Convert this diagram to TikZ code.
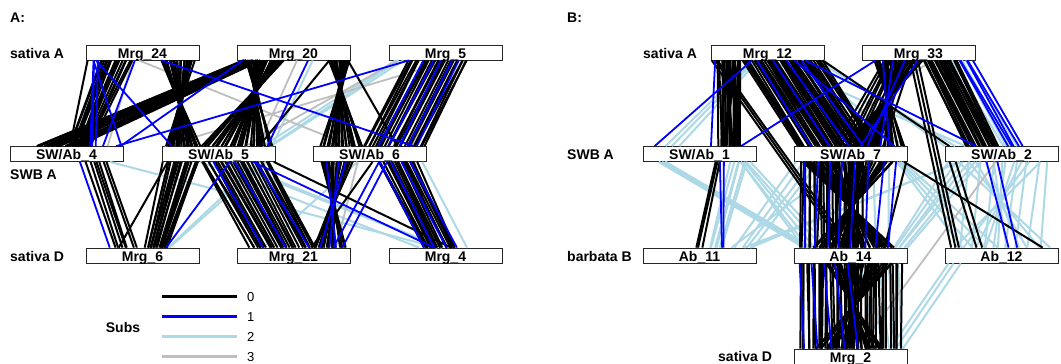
\documentclass[tikz,border=0pt]{standalone}
\usepackage{fontspec}
\setmainfont{Liberation Sans}
\usetikzlibrary{calc}
\definecolor{lbl}{HTML}{ADD8E6}
\definecolor{gry}{HTML}{BEBEBE}
% n links from the bottom edge of #1 to the top edge of #4 (offsets from left edges)
\newcommand\bund[8]{%
  \foreach \q in {1,...,#7}{
    \pgfmathsetmacro\fr{(\q-0.5)/#7}
    \draw[#8] ($(#1.south west)+({#2+(#3-#2)*\fr+2*rand},0)$) -- ($(#4.north west)+({#5+(#6-#5)*\fr+2*rand},0)$);
  }}
\tikzset{
  sub0/.style={black,line width=2},
  sub1/.style={blue,line width=1.8},
  sub2/.style={lbl,line width=2},
  sub3/.style={gry,line width=1.8}
}

\begin{document}
\begin{tikzpicture}[x=1pt, y=-1pt,
    box/.style={draw=black!85, line width=0.8, fill=white, minimum width=113, minimum height=15,
      inner sep=0, text height=11.5, text depth=0, font=\fontsize{14}{14}\selectfont\bfseries},
    lab/.style={anchor=west, inner sep=0, font=\fontsize{14}{14}\selectfont\bfseries}]
    \pgfmathsetseed{7}
    \useasboundingbox (0,0) rectangle (1061,364);

    % panel A
    \node[lab] (tA) at (10,18) {A:};
    \node[lab] (rA1) at (10,53) {sativa A};
    \node[lab] (rA2) at (10,175) {SWB A};
    \node[lab] (rA3) at (10,256) {sativa D};
    \foreach \n/\x in {24/142.5,20/293.5,5/445.5}
        \node[box] (m\n) at (\x,52.5) {Mrg\_\n};
    \foreach \n/\x in {4/66.5,5/218.5,6/369.5}
        \node[box] (s\n) at (\x,154) {SW/Ab\_\n};
    \foreach \n/\x in {6/142.5,21/293.5,4/445.5}
        \node[box] (m\n) at (\x,255.5) {Mrg\_\n};

    % panel B
    \node[lab] (tB) at (567,18) {B:};
    \node[lab] (rB1) at (643,53) {sativa A};
    \node[lab] (rB2) at (567,155) {SWB A};
    \node[lab] (rB3) at (567,256) {barbata B};
    \node[lab] (rB4) at (718,356) {sativa D};
    \foreach \n/\x in {12/767.5,33/918.5}
        \node[box] (m\n) at (\x,52.5) {Mrg\_\n};
    \foreach \n/\x in {1/699.5,7/850.5,2/1001.5}
        \node[box] (s\n) at (\x,154) {SW/Ab\_\n};
    \foreach \n/\x in {11/699.5,14/850.5,12/1001.5}
        \node[box] (b\n) at (\x,255.5) {Ab\_\n};
    \node[box] (m2) at (850.5,356.5) {Mrg\_2};

    % A: 2 and 3 subs
    \bund{m5}{5}{15}{s5}{100}{112}{3}{sub2}
    \bund{m20}{75}{75}{s5}{110}{110}{1}{sub2}
    \bund{s4}{100}{100}{m4}{50}{50}{1}{sub2}
    \bund{s5}{95}{105}{m6}{82}{82}{2}{sub2}
    \bund{s5}{60}{75}{m4}{50}{55}{2}{sub2}
    \bund{s5}{40}{40}{m4}{30}{30}{1}{sub2}
    \bund{s6}{43}{43}{m21}{26}{26}{1}{sub2}
    \bund{s6}{108}{108}{m4}{80}{80}{1}{sub2}
    \bund{m24}{55}{55}{s6}{38}{38}{1}{sub3}
    \bund{m24}{45}{45}{s4}{98}{98}{1}{sub3}
    \bund{m20}{60}{60}{s5}{95}{95}{1}{sub3}
    \bund{m5}{10}{10}{s5}{85}{85}{1}{sub3}
    \bund{m5}{60}{60}{s5}{5}{5}{1}{sub3}
    \bund{m5}{45}{70}{s6}{75}{105}{2}{sub3}
    \bund{s6}{45}{45}{m21}{100}{100}{1}{sub3}
    \bund{s6}{100}{100}{m4}{40}{40}{1}{sub3}
    % A: 0 subs
    \bund{m24}{2}{2}{s4}{62}{62}{1}{sub0}
    \bund{m24}{14}{47}{s4}{60}{80}{16}{sub0}
    \bund{m24}{74}{108}{s5}{38}{5}{30}{sub0}
    \bund{m20}{5}{25}{s4}{25}{70}{18}{sub0}
    \bund{m20}{8}{48}{s5}{113}{40}{36}{sub0}
    \bund{m20}{93}{113}{s6}{50}{7}{24}{sub0}
    \bund{m20}{110}{110}{s6}{83}{83}{1}{sub0}
    \bund{m20}{93}{93}{s5}{99}{99}{1}{sub0}
    \bund{m5}{20}{80}{s6}{50}{113}{28}{sub0}
    \bund{s4}{75}{97}{m6}{29}{51}{7}{sub0}
    \bund{s5}{2}{38}{m6}{60}{82}{18}{sub0}
    \bund{s5}{5}{5}{m6}{35}{35}{1}{sub0}
    \bund{s5}{38}{110}{m21}{13}{80}{30}{sub0}
    \bund{s6}{7}{40}{m21}{110}{76}{24}{sub0}
    \bund{s6}{64}{104}{m4}{34}{68}{20}{sub0}
    \bund{s5}{113}{113}{m4}{62}{62}{1}{sub0}
    \bund{s6}{60}{60}{m21}{75}{75}{1}{sub0}
    % A: 1 sub
    \bund{m24}{5}{12}{s4}{78}{88}{3}{sub1}
    \bund{m24}{12}{12}{s5}{10}{10}{1}{sub1}
    \bund{m24}{50}{50}{s4}{95}{95}{1}{sub1}
    \bund{m24}{8}{8}{s4}{112}{112}{1}{sub1}
    \bund{m24}{76}{76}{s6}{100}{100}{1}{sub1}
    \bund{m20}{5}{5}{s4}{110}{110}{1}{sub1}
    \bund{m5}{20}{20}{s4}{108}{108}{1}{sub1}
    \bund{m20}{70}{70}{s5}{105}{105}{1}{sub1}
    \bund{m5}{30}{75}{s6}{60}{110}{5}{sub1}
    \bund{s4}{72}{72}{m6}{25}{25}{1}{sub1}
    \bund{s5}{70}{70}{m6}{80}{80}{1}{sub1}
    \bund{s5}{90}{90}{m4}{45}{45}{1}{sub1}
    \bund{s5}{40}{105}{m21}{15}{85}{3}{sub1}
    \bund{s6}{10}{38}{m21}{105}{80}{3}{sub1}
    \bund{s6}{75}{75}{m21}{105}{105}{1}{sub1}
    \bund{s6}{65}{65}{m21}{97}{97}{1}{sub1}
    \bund{s6}{60}{105}{m4}{30}{75}{4}{sub1}

    % B: 2 and 3 subs
    \bund{m12}{40}{50}{s1}{20}{40}{3}{sub2}
    \bund{m12}{105}{105}{s2}{10}{10}{1}{sub2}
    \bund{m12}{90}{90}{s7}{110}{110}{1}{sub2}
    \bund{m12}{60}{60}{s2}{20}{20}{1}{sub2}
    \bund{m12}{112}{112}{s2}{2}{2}{1}{sub2}
    \bund{m33}{90}{108}{s2}{55}{75}{4}{sub2}
    \bund{s1}{88}{105}{b11}{65}{80}{6}{sub2}
    \bund{s1}{15}{25}{b14}{10}{20}{6}{sub2}
    \bund{s1}{95}{110}{b14}{5}{40}{5}{sub2}
    \bund{s2}{10}{20}{b11}{110}{100}{2}{sub2}
    \bund{s7}{50}{50}{b11}{90}{90}{1}{sub2}
    \bund{s7}{0}{30}{b11}{90}{113}{4}{sub2}
    \bund{s2}{10}{100}{b12}{110}{5}{10}{sub2}
    \bund{s2}{20}{110}{b12}{10}{100}{8}{sub2}
    \bund{s2}{0}{40}{b14}{100}{113}{6}{sub2}
    \bund{s7}{100}{113}{b12}{10}{60}{4}{sub2}
    \bund{s7}{20}{100}{b14}{30}{100}{6}{sub2}
    \bund{b12}{0}{20}{m2}{95}{112}{3}{sub2}
    \bund{b14}{60}{110}{m2}{80}{110}{5}{sub2}
    \bund{m33}{70}{70}{s7}{19}{19}{1}{sub3}
    \bund{s2}{50}{50}{m2}{65}{65}{1}{sub3}
    % B: 0 subs
    \bund{m12}{7}{32}{s1}{77}{97}{20}{sub0}
    \bund{m12}{10}{30}{s1}{92}{80}{8}{sub0}
    \bund{m12}{32}{112}{s7}{3}{85}{50}{sub0}
    \bund{m12}{112}{112}{s2}{5}{5}{1}{sub0}
    \bund{m12}{0}{6}{b14}{50}{60}{3}{sub0}
    \bund{m33}{11}{60}{s7}{113}{50}{30}{sub0}
    \bund{m33}{20}{50}{s7}{40}{90}{12}{sub0}
    \bund{m33}{61}{95}{s2}{22}{55}{24}{sub0}
    \bund{m33}{45}{58}{b12}{5}{15}{3}{sub0}
    \bund{s1}{70}{79}{b11}{52}{60}{3}{sub0}
    \bund{s7}{10}{100}{b14}{100}{20}{44}{sub0}
    \bund{s7}{5}{70}{b14}{5}{70}{24}{sub0}
    \bund{s7}{110}{110}{b12}{98}{98}{1}{sub0}
    \bund{s7}{112}{112}{b14}{90}{90}{1}{sub0}
    \bund{s2}{5}{12}{b12}{30}{38}{2}{sub0}
    \bund{b14}{5}{108}{m2}{5}{108}{40}{sub0}
    \bund{b14}{30}{100}{m2}{90}{20}{28}{sub0}
    % B: 1 sub
    \bund{m12}{3}{3}{s1}{70}{70}{1}{sub1}
    \bund{m12}{42}{42}{s1}{14}{14}{1}{sub1}
    \bund{m33}{15}{15}{s1}{100}{100}{1}{sub1}
    \bund{m12}{95}{95}{s2}{30}{30}{1}{sub1}
    \bund{m12}{85}{85}{s7}{100}{100}{1}{sub1}
    \bund{m12}{40}{100}{s7}{10}{80}{4}{sub1}
    \bund{m33}{15}{60}{s7}{100}{60}{4}{sub1}
    \bund{m33}{95}{112}{s2}{60}{80}{5}{sub1}
    \bund{s1}{78}{82}{b11}{75}{85}{2}{sub1}
    \bund{s7}{3}{110}{b14}{5}{100}{8}{sub1}
    \bund{s2}{40}{55}{b12}{60}{78}{2}{sub1}
    \bund{b14}{2}{60}{m2}{4}{70}{5}{sub1}

    % legend
    \node[lab, anchor=center] (subs) at (123,327) {Subs};
    \foreach \c [count=\i from 0] in {sub0,sub1,sub2,sub3} {
        \draw[\c, line width=3] (162,296+20*\i) -- (237,296+20*\i);
        \node[anchor=west, inner sep=0, font=\fontsize{13}{13}\selectfont] at (247,297+20*\i) {\i};
    }
\end{tikzpicture}
\end{document}
